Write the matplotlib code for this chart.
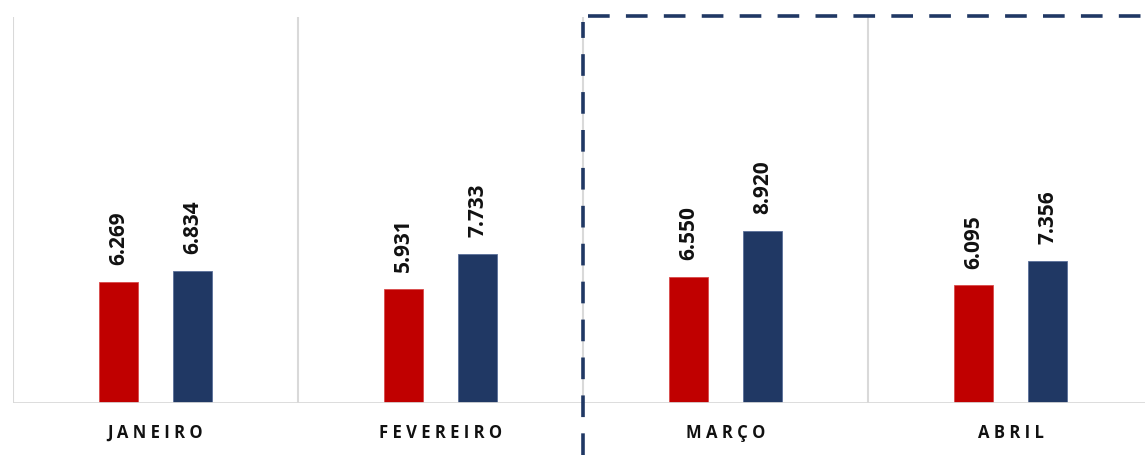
import matplotlib.pyplot as plt
from matplotlib.lines import Line2D

months = ['JANEIRO', 'FEVEREIRO', 'MARÇO', 'ABRIL']
serie_a = [6269, 5931, 6550, 6095]
serie_b = [6834, 7733, 8920, 7356]

red = '#c00000'
navy = '#203864'
grid = '#d9d9d9'

plt.rcParams['font.family'] = ['Open Sans', 'DejaVu Sans']

fig = plt.figure(figsize=(11.45, 4.55), dpi=100)
ax = fig.add_axes([13 / 1145, 52 / 455, 1140 / 1145, 386 / 455])

x = list(range(len(months)))
w = 0.137
off = 0.13
bars_a = ax.bar([i - off for i in x], serie_a, width=w, color=red, edgecolor='#d94a4a', linewidth=0.6, zorder=3)
bars_b = ax.bar([i + off for i in x], serie_b, width=w, color=navy, edgecolor='#5a6f9a', linewidth=0.6, zorder=3)


def fmt(v):
    return f'{v:,}'.replace(',', '.')


for bars, vals in ((bars_a, serie_a), (bars_b, serie_b)):
    for b, v in zip(bars, vals):
        ax.annotate(fmt(v), (b.get_x() + b.get_width() / 2, v), xytext=(0, 12),
                    textcoords='offset points', rotation=90, ha='center', va='bottom',
                    fontsize=15, fontweight='bold', color='#111111')

ax.set_xlim(-0.5, 3.5)
ax.set_ylim(0, 20000)

# separators between months
for s in [-0.5, 0.5, 1.5, 2.5, 3.5]:
    ax.axvline(s, color=grid, linewidth=1.5, zorder=1)
ax.axhline(0, color=grid, linewidth=2, zorder=4)

for sp in ax.spines.values():
    sp.set_visible(False)
ax.set_yticks([])
ax.set_xticks(x)
ax.set_xticklabels([' '.join(m) for m in months], fontsize=12, fontweight='bold', color='#111111')
ax.tick_params(axis='x', length=0, pad=15)

# dashed highlight box (Março / Abril)
dash = dict(color=navy, linewidth=2.6, linestyle=(0, (6, 4.5)))
fig.add_artist(Line2D([583 / 1145, 583 / 1145], [0, (455 - 22) / 455], **dash))
fig.add_artist(Line2D([588 / 1145, 1.0], [(455 - 16) / 455, (455 - 16) / 455], **dash))

fig.savefig('out.png', dpi=100)
